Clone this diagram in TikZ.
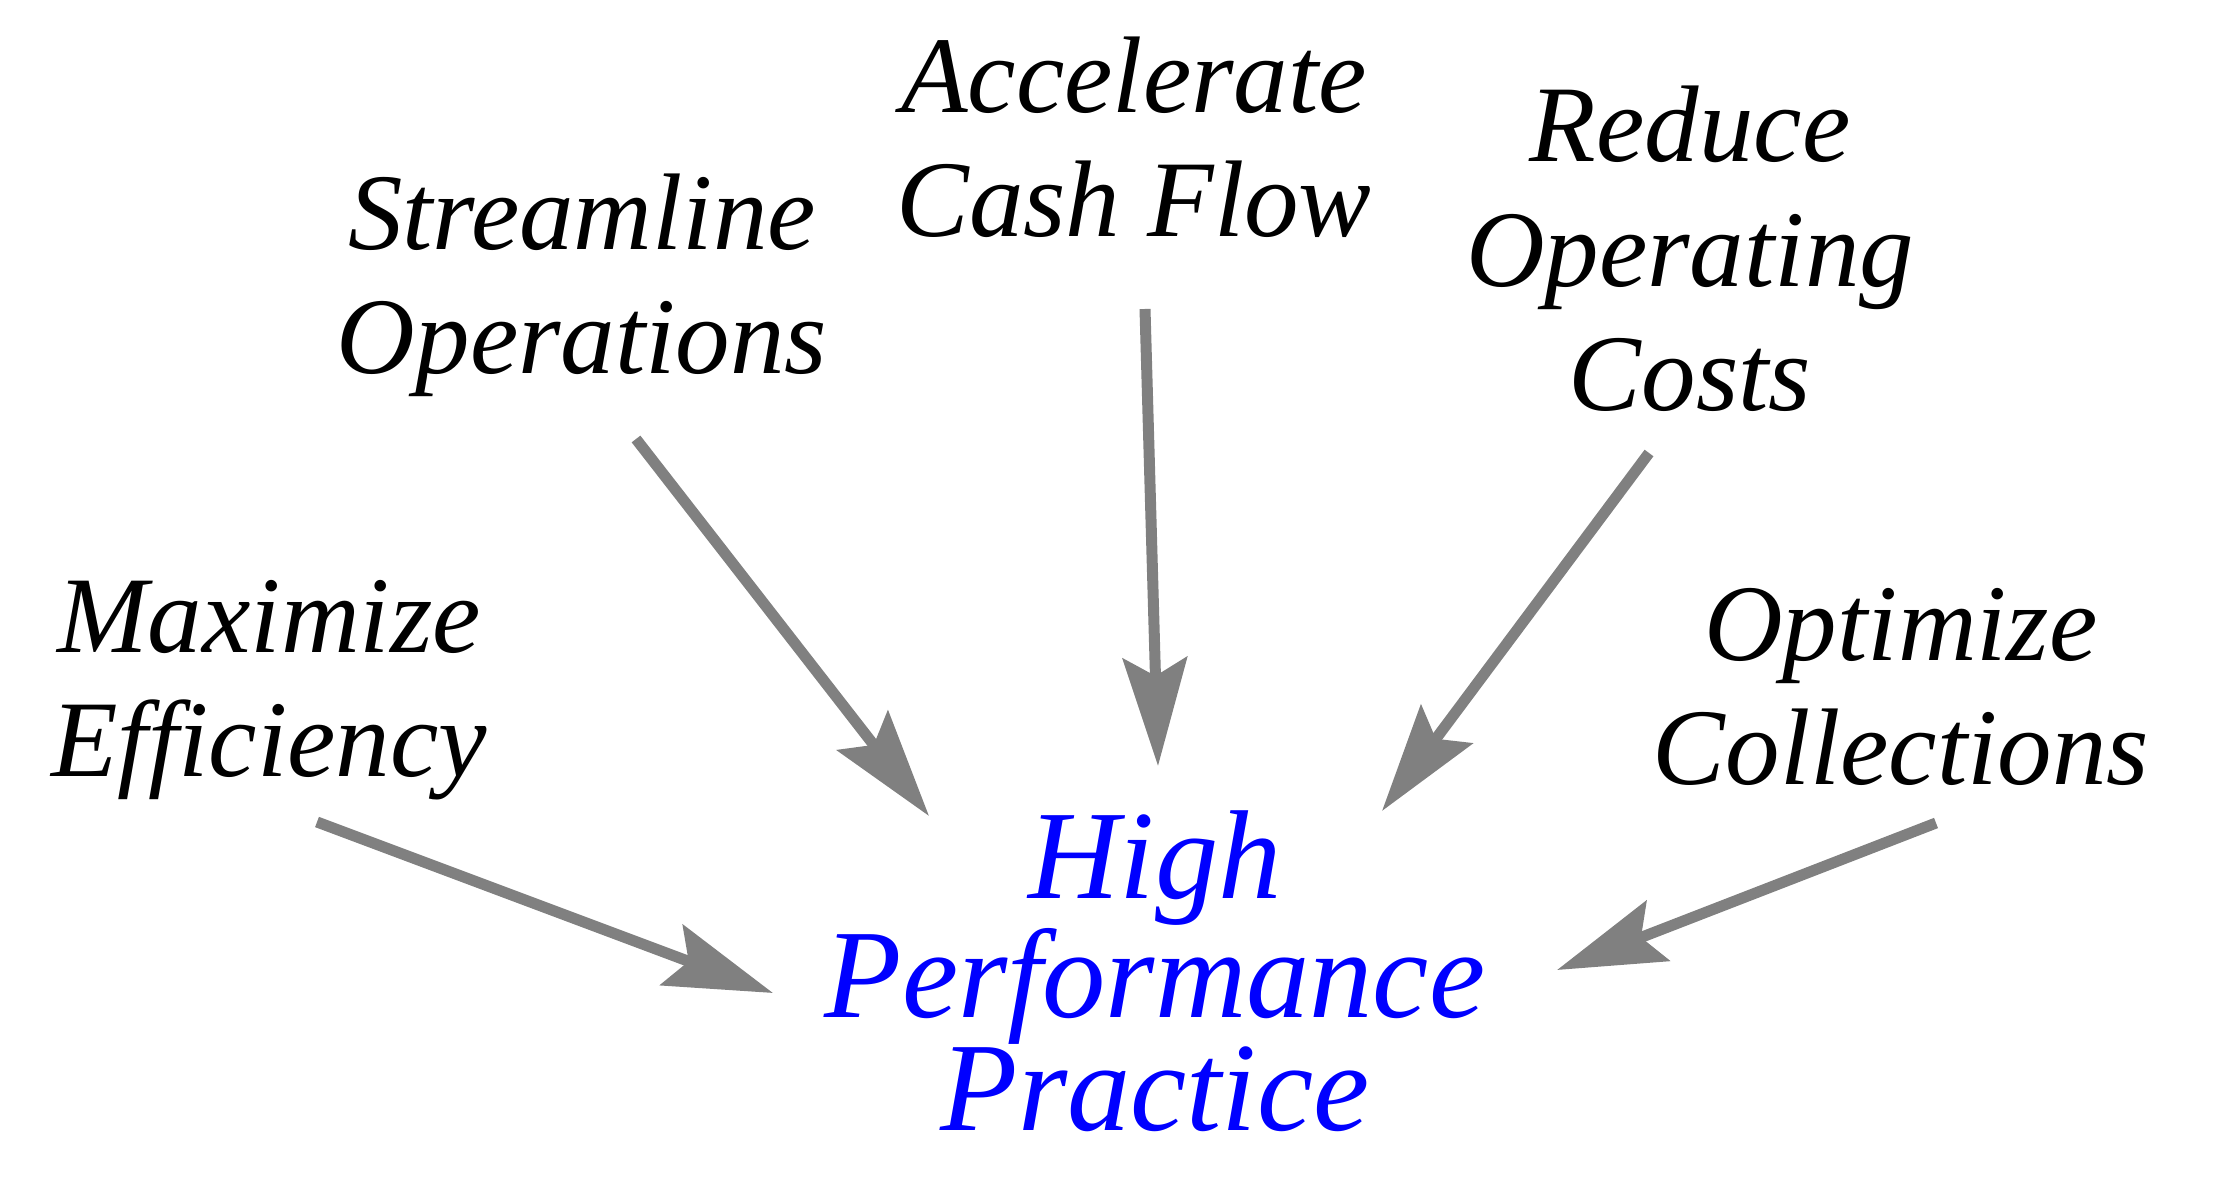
\documentclass[tikz,border=0pt]{standalone}
\usepackage{fontspec}
\setmainfont{Liberation Serif}
\usetikzlibrary{arrows.meta}
\begin{document}
\begin{tikzpicture}[x=0.1mm, y=-0.1mm, font=\itshape\fontsize{31}{35.5}\selectfont, align=center, inner sep=0pt]
\useasboundingbox (0,0) rectangle (2218,1198);

\node[anchor=base] (stream) at (582,374) {Streamline\\Operations};
\node[anchor=base] (cash) at (1134,237) {Accelerate\\Cash Flow};
\node[anchor=base] (costs) at (1690,411) {Reduce\\Operating\\Costs};
\node[anchor=base] (effic) at (269,777) {Maximize\\Efficiency};
\node[anchor=base] (collect) at (1901,785) {Optimize\\Collections};

\node[anchor=base, blue, font=\itshape\fontsize{36}{32}\selectfont] (hpp) at (1155,1130) {High\\Performance\\Practice};

\coordinate (stream1) at (636,439);
\coordinate (stream2) at (929,816);
\coordinate (cash1) at (1145,309);
\coordinate (cash2) at (1158,766);
\coordinate (costs1) at (1649,453);
\coordinate (costs2) at (1382,811);
\coordinate (effic1) at (317,822);
\coordinate (effic2) at (773,993);
\coordinate (collect1) at (1936,823);
\coordinate (collect2) at (1557,970);

\begin{scope}[-{Stealth[length=10.8mm, width=6.4mm, inset=1.8mm]}, gray, line width=1.1mm]
\foreach \x in {stream, cash, costs, effic, collect}
	\draw (\x1)--(\x2);
\end{scope}

\end{tikzpicture}
\end{document}
